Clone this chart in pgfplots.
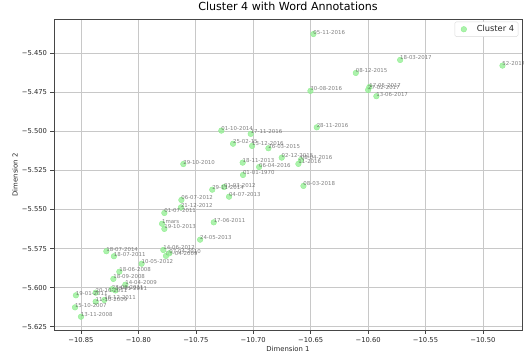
\documentclass[border=0pt]{standalone}
\usepackage{pgfplots}
\pgfplotsset{compat=1.18}
\usepackage{pgfplotstable}
\usepackage{fontspec}
\setmainfont{DejaVu Sans}
\definecolor{ptgreen}{RGB}{144,238,144}
\definecolor{gridgray}{RGB}{200,200,200}
\definecolor{lblgray}{RGB}{85,85,85}
\definecolor{axgray}{RGB}{70,70,70}
\pgfplotstableread{
x y label
-10.6476 -5.4377 05-11-2016
-10.5721 -5.4543 18-03-2017
-10.4830 -5.4579 52-2017
-10.6107 -5.4626 08-12-2015
-10.6502 -5.4741 30-08-2016
-10.5989 -5.4716 17-05-2017
-10.6000 -5.4735 27-02-2017
-10.5928 -5.4775 13-06-2017
-10.6447 -5.4974 28-11-2016
-10.7278 -5.4995 01-10-2014
-10.7022 -5.5016 17-11-2016
-10.7176 -5.5079 25-02-15
-10.7010 -5.5093 13-12-2016
-10.6868 -5.5108 26-03-2015
-10.6752 -5.5168 02-12-2015
-10.6586 -5.5183 08-04-2016
-10.6607 -5.5208 11-2016
-10.7609 -5.5209 29-10-2010
-10.7092 -5.5200 18-11-2013
-10.6949 -5.5228 06-04-2016
-10.7089 -5.5279 01-01-1970
-10.6563 -5.5349 08-03-2018
-10.7254 -5.5356 01-03-2012
-10.7357 -5.5373 29-11-2014
-10.7211 -5.5418 04-07-2013
-10.7626 -5.5439 06-07-2012
-10.7629 -5.5486 21-12-2012
-10.7774 -5.5522 01-07-2011
-10.7344 -5.5582 17-06-2011
-10.7794 -5.5591 1mars
-10.7774 -5.5624 19-10-2013
-10.7463 -5.5693 24-05-2013
-10.7783 -5.5759 14-06-2012
-10.7760 -5.5797 09-04-2009
-10.7731 -5.5780 07-04-2010
-10.8279 -5.5767 18-07-2014
-10.8213 -5.5799 18-07-2011
-10.7972 -5.5847 10-05-2012
-10.8166 -5.5898 18-06-2008
-10.8218 -5.5944 18-09-2008
-10.8114 -5.5981 14-04-2009
-10.8230 -5.6010 23-09-2011
-10.8200 -5.6018 13-01-2011
-10.8372 -5.6032 20-10-2011
-10.8544 -5.6049 19-01-2011
-10.8297 -5.6079 16-12-2011
-10.8372 -5.6090 11-10-2009
-10.8552 -5.6126 15-10-2007
-10.8500 -5.6186 13-11-2008
}\data
\begin{document}
\begin{tikzpicture}
\begin{axis}[
  scale only axis, width=468bp, height=310.5bp,
  xmin=-10.8735, xmax=-10.466, ymin=-5.6271, ymax=-5.4284,
  xtick={-10.85,-10.80,-10.75,-10.70,-10.65,-10.60,-10.55,-10.50},
  xticklabels={−10.85,−10.80,−10.75,−10.70,−10.65,−10.60,−10.55,−10.50},
  ytick={-5.625,-5.600,-5.575,-5.550,-5.525,-5.500,-5.475,-5.450},
  yticklabels={−5.625,−5.600,−5.575,−5.550,−5.525,−5.500,−5.475,−5.450},
  grid=major, major grid style={gridgray, line width=0.7bp},
  axis line style={axgray, line width=0.8bp},
  tick style={axgray, line width=0.6bp},
  tick align=outside, major tick length=3.5bp, tick pos=left,
  tick label style={font=\fontsize{6.8}{8}\selectfont, text=black!85},
  title={Cluster 4 with Word Annotations},
  title style={font=\fontsize{11.15}{13}\selectfont, at={(axis description cs:0.5,1)}, anchor=base, yshift=3.5bp},
  xlabel={Dimension 1}, ylabel={Dimension 2},
  label style={font=\fontsize{6.9}{8}\selectfont, text=black!85},
  xlabel style={at={(axis description cs:0.5,-0.0602)}, anchor=center},
  ylabel style={at={(axis description cs:-0.0833,0.5)}, anchor=center},
  legend style={at={(axis description cs:0.992,0.993)}, anchor=north east, draw=black!15, rounded corners=1.5bp, font=\fontsize{8.3}{9}\selectfont, text=black!85, inner xsep=2bp, inner ysep=1.5bp},
  legend image code/.code={\path[draw=none,fill=none] (-7bp,-1bp) rectangle (11bp,1bp); \draw[#1,only marks] plot coordinates {(0bp,0bp)};},
  clip=false,
]
\addplot[only marks, color=ptgreen, mark=*, mark size=2.8bp, mark options={draw=none, fill=ptgreen, fill opacity=0.75},
  nodes near coords, point meta=explicit symbolic,
  every node near coord/.append style={anchor=base west, inner sep=0pt, outer sep=0pt, font=\fontsize{5.45}{6}\selectfont, text=lblgray}]
  table[x=x, y=y, meta=label] {\data};
\addlegendentry{Cluster 4}
\end{axis}
\pgfresetboundingbox
\path[use as bounding box] ([shift={(-54bp,-28bp)}]current axis.south west) rectangle ([shift={(2bp,19.5bp)}]current axis.north east);
\end{tikzpicture}
\end{document}
